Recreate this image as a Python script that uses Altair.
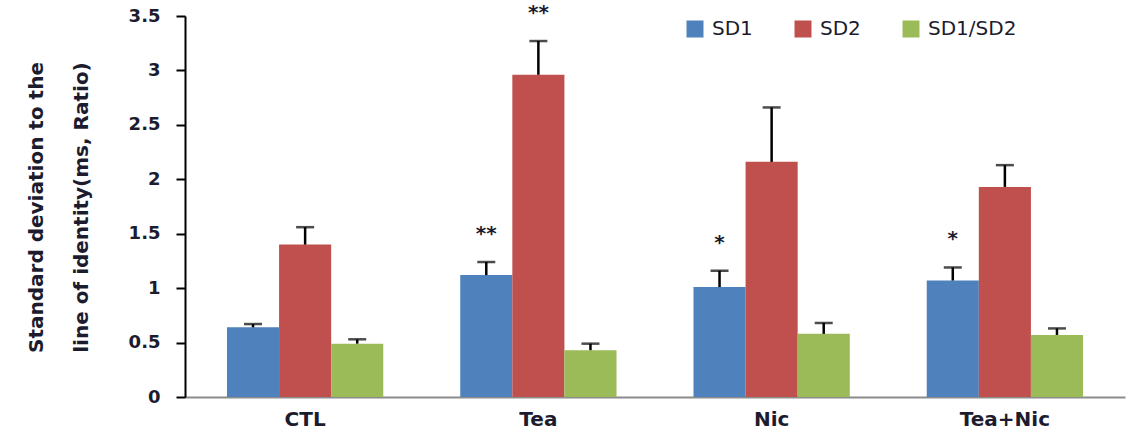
import altair as alt
import pandas as pd

# Groups, series and the values plotted for each
groups = ["CTL", "Tea", "Nic", "Tea+Nic"]
series = ["SD1", "SD2", "SD1/SD2"]
colors = ["#4F81BD", "#C0504D", "#9BBB59"]

sd1_mean = [0.64, 1.12, 1.01, 1.07]
sd1_err = [0.03, 0.12, 0.15, 0.12]
sd2_mean = [1.40, 2.96, 2.16, 1.93]
sd2_err = [0.16, 0.31, 0.50, 0.20]
ratio_mean = [0.49, 0.43, 0.58, 0.57]
ratio_err = [0.04, 0.06, 0.10, 0.06]

# Significance markers drawn above the error bars
sd1_sig = ["", "**", "*", "*"]
sd2_sig = ["", "**", "", ""]
ratio_sig = ["", "", "", ""]

y_ticks = [0, 0.5, 1, 1.5, 2, 2.5, 3, 3.5]

rows = []
for name, means, errs, sigs in [
    ("SD1", sd1_mean, sd1_err, sd1_sig),
    ("SD2", sd2_mean, sd2_err, sd2_sig),
    ("SD1/SD2", ratio_mean, ratio_err, ratio_sig),
]:
    for g, m, e, s in zip(groups, means, errs, sigs):
        rows.append({"group": g, "series": name, "mean": m, "top": m + e, "sig": s})
df = pd.DataFrame(rows)

text_color = "#1c1c2e"

x_enc = alt.X(
    "group:N",
    sort=groups,
    scale=alt.Scale(paddingInner=0.33, paddingOuter=0.18),
    axis=alt.Axis(
        title=None,
        labelAngle=0,
        labelFont="DejaVu Sans",
        labelFontSize=20,
        labelFontWeight="bold",
        labelColor=text_color,
        labelPadding=12,
        ticks=False,
        domainColor="#8c8c8c",
        domainWidth=2,
    ),
)
xoff_enc = alt.XOffset(
    "series:N", sort=series, scale=alt.Scale(domain=series, paddingInner=0, paddingOuter=0)
)
y_axis = alt.Axis(
    values=y_ticks,
    format="~g",
    grid=False,
    title=["Standard deviation to the", "line of identity(ms, Ratio)"],
    titleFont="DejaVu Sans",
    titleFontSize=20,
    titleFontWeight="bold",
    titleColor=text_color,
    titleAngle=270,
    titleAlign="center",
    titleBaseline="alphabetic",
    titleLineHeight=45,
    titleX=-143,
    titleY=191,
    labelFont="DejaVu Sans",
    labelFontSize=18,
    labelFontWeight="bold",
    labelColor=text_color,
    labelPadding=16,
    tickSize=9,
    tickWidth=2,
    tickColor="black",
    domainColor="black",
    domainWidth=2,
)
y_scale = alt.Scale(domain=[0, 3.5], nice=False)

bars = alt.Chart(df).mark_bar().encode(
    x=x_enc,
    xOffset=xoff_enc,
    y=alt.Y("mean:Q", scale=y_scale, axis=y_axis),
    color=alt.Color(
        "series:N",
        scale=alt.Scale(domain=series, range=colors),
        legend=alt.Legend(
            title=None,
            orient="none",
            legendX=500,
            legendY=3,
            direction="horizontal",
            symbolType="square",
            symbolSize=289,
            symbolStrokeWidth=0,
            labelFont="DejaVu Sans",
            labelFontSize=20,
            labelColor=text_color,
            labelOffset=7,
            columnPadding=40,
        ),
    ),
)

err_rules = alt.Chart(df).mark_rule(color="black", strokeWidth=2.5).encode(
    x=x_enc,
    xOffset=xoff_enc,
    y=alt.Y("mean:Q", scale=y_scale, axis=y_axis),
    y2="top:Q",
)

err_caps = alt.Chart(df).mark_tick(color="black", thickness=2.5, size=18).encode(
    x=x_enc,
    xOffset=xoff_enc,
    y=alt.Y("top:Q", scale=y_scale, axis=y_axis),
)

stars = (
    alt.Chart(df)
    .transform_filter("datum.sig != ''")
    .mark_text(
        dy=-38,
        baseline="top",
        font="DejaVu Sans",
        fontSize=20,
        fontWeight="bold",
        color=text_color,
    )
    .encode(
        x=x_enc,
        xOffset=xoff_enc,
        y=alt.Y("top:Q", scale=y_scale, axis=y_axis),
        text="sig:N",
    )
)

chart = (
    alt.layer(bars, err_rules, err_caps, stars)
    .properties(
        width=940,
        height=381,
        padding={"left": 185, "top": 16, "right": 11, "bottom": 37},
        autosize="none",
        background="white",
    )
    .configure_view(stroke=None)
)

chart.save("out.html", embed_options={"renderer": "svg", "actions": False})
